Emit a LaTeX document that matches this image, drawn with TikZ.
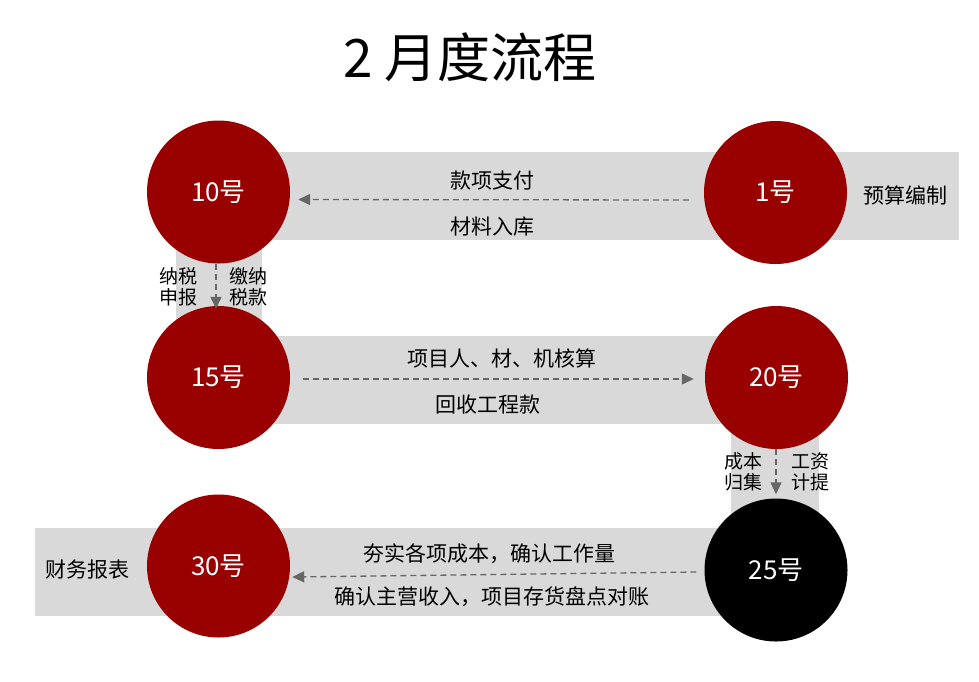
\documentclass[tikz,border=0pt]{standalone}
\usepackage{fontspec}
\setmainfont{Noto Sans CJK SC}
\usetikzlibrary{arrows.meta}
\definecolor{dred}{HTML}{990000}
\definecolor{bandgray}{HTML}{D9D9D9}
\definecolor{arrgray}{HTML}{666666}
\begin{document}
\begin{tikzpicture}[x=1pt,y=-1pt,
 day/.style={circle,fill=dred,minimum size=143pt,inner sep=0pt,text=white,font=\fontsize{26}{30}\selectfont},
 lbl/.style={font=\fontsize{21}{24}\selectfont,inner sep=0pt},
 sidelbl/.style={font=\fontsize{19}{20.5}\selectfont,align=center,inner sep=0pt},
 flow/.style={draw=arrgray,line width=1.3pt,dash pattern=on 6pt off 4pt,-{Triangle[length=12pt,width=11pt]}}]
\useasboundingbox (0,0) rectangle (979,681);
% bands
\fill[bandgray] (218,152) rectangle (959,240);
\fill[bandgray] (176,192) rectangle (262,378);
\fill[bandgray] (218,336) rectangle (776,424);
\fill[bandgray] (731,378) rectangle (819,571);
\fill[bandgray] (35,528) rectangle (776,616);
% title
\node[inner sep=0pt,font=\fontsize{53}{60}\selectfont] (title) at (470,57) {2 月度流程};
% circles
\node[day] (c10) at (218.5,192) {10号};
\node[day] (c1) at (775.5,192.5) {1号};
\node[day] (c15) at (218.5,377.5) {15号};
\node[day] (c20) at (776.5,377.5) {20号};
\node[day,fill=black] (c25) at (776,570) {25号};
\node[day] (c30) at (218.5,566) {30号};
% connectors
\draw[flow] ([xshift=-15pt,yshift=-7.5pt]c1.west) -- ([xshift=8pt,yshift=-7.5pt]c10.east);
\draw[flow] ([xshift=-2.5pt]c10.south) -- ([xshift=-2.5pt,yshift=-3pt]c15.north);
\draw[flow] ([xshift=13pt,yshift=-1.5pt]c15.east) -- ([xshift=-11pt,yshift=-1.5pt]c20.west);
\draw[flow] ([xshift=-0.5pt]c20.south) -- ([yshift=4pt]c25.north);
\draw[flow] ([xshift=-8pt,yshift=-2pt]c25.west) -- ([xshift=2pt,yshift=-11pt]c30.east);
% labels
\node[lbl] (t1) at (492,181) {款项支付};
\node[lbl] (t2) at (492,227) {材料入库};
\node[lbl] (t3) at (905,195) {预算编制};
\node[sidelbl] (t4) at (178,287) {纳税\\申报};
\node[sidelbl] (t5) at (248,287) {缴纳\\税款};
\node[lbl] (t6) at (502,358) {项目人、材、机核算};
\node[lbl] (t7) at (488,405) {回收工程款};
\node[sidelbl] (t8) at (743.5,472) {成本\\归集};
\node[sidelbl] (t9) at (810.5,472) {工资\\计提};
\node[lbl] (t10) at (489,554) {夯实各项成本，确认工作量};
\node[lbl] (t11) at (491.5,597) {确认主营收入，项目存货盘点对账};
\node[lbl] (t12) at (87,570) {财务报表};
\end{tikzpicture}
\end{document}
